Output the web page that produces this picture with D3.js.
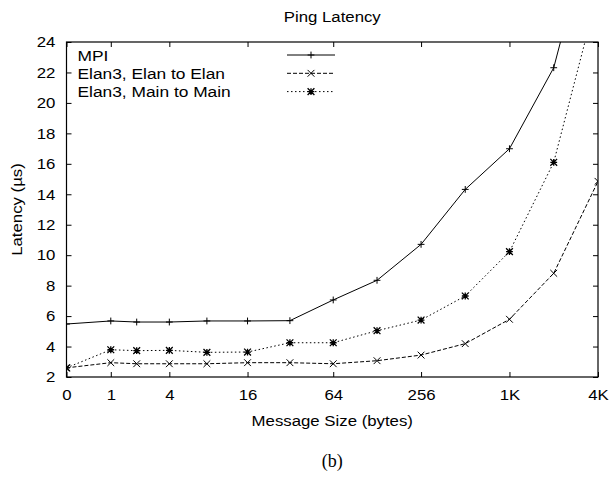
<!DOCTYPE html>
<meta charset="utf-8">
<script src="https://cdn.jsdelivr.net/npm/d3@7"></script>
<style>
  body { margin: 0; background: #fff; }
  text { font-family: "Liberation Sans", Arial, sans-serif; fill: #000; }
</style>
<div id="chart"></div>
<script>
// message sizes (bytes) and latencies (us)
var sizes = [0, 1, 2, 4, 8, 16, 32, 64, 128, 256, 512, 1024, 2048, 4096];
var mpi = [5.48, 5.68, 5.61, 5.61, 5.68, 5.68, 5.7, 7.06, 8.35, 10.71, 14.32, 16.99, 22.31, 33.4];
var elanElan = [2.6, 2.94, 2.87, 2.87, 2.87, 2.94, 2.94, 2.87, 3.07, 3.44, 4.19, 5.79, 8.81, 14.85];
var mainMain = [2.6, 3.79, 3.73, 3.75, 3.62, 3.64, 4.25, 4.25, 5.04, 5.74, 7.32, 10.23, 16.1, 27.3];
var sizeTicks = [0, 1, 4, 16, 64, 256, 1024, 4096];
var sizeLabels = ["0", "1", "4", "16", "64", "256", "1K", "4K"];
var latTicks = [2, 4, 6, 8, 10, 12, 14, 16, 18, 20, 22, 24];

var series = [
  {name: "MPI", values: mpi, dash: null, mark: "plus"},
  {name: "Elan3, Elan to Elan", values: elanElan, dash: "4,2", mark: "cross"},
  {name: "Elan3, Main to Main", values: mainMain, dash: "1.5,2.5", mark: "star"}
];

var W = 611, H = 478;
var pl = 66.5, pr = 598, pt = 42, pb = 377;
var SX = 1.12; // gnuplot text looks a little wide

var svg = d3.select("#chart").append("svg").attr("width", W).attr("height", H);

// x is log2(size+1), so 0 sits one step left of 1
var x = d3.scaleLog().base(2).domain([1, 4097]).range([pl, pr]);
var y = d3.scaleLinear().domain([2, 24]).range([pb, pt]);

function stretched(sel) {
  sel.attr("transform", "scale(" + SX + ",1)");
}

// axes, ticks pointing in, mirrored on top/right
var gx = svg.append("g").attr("transform", "translate(0," + pb + ")")
  .call(d3.axisBottom(x).tickValues(sizeTicks.map(d => d + 1))
    .tickFormat((d, i) => sizeLabels[i]).tickSize(-5).tickPadding(12));
var gy = svg.append("g").attr("transform", "translate(" + pl + ",0)")
  .call(d3.axisLeft(y).tickValues(latTicks).tickSize(-5).tickPadding(10));
svg.append("g").attr("transform", "translate(0," + pt + ")")
  .call(d3.axisTop(x).tickValues(sizeTicks.map(d => d + 1)).tickFormat("").tickSize(-5));
svg.append("g").attr("transform", "translate(" + pr + ",0)")
  .call(d3.axisRight(y).tickValues(latTicks).tickFormat("").tickSize(-5));

svg.selectAll(".domain").remove();
svg.selectAll(".tick line").attr("stroke", "#000");
svg.selectAll(".tick text").style("font-size", "15px");
gx.selectAll(".tick text").call(stretched);
gy.selectAll(".tick text").call(stretched);

svg.append("rect").attr("x", pl).attr("y", pt)
  .attr("width", pr - pl).attr("height", pb - pt)
  .attr("fill", "none").attr("stroke", "#000").attr("stroke-width", 1.2);

svg.append("clipPath").attr("id", "clip").append("rect")
  .attr("x", pl).attr("y", pt).attr("width", pr - pl).attr("height", pb - pt);

function marker(g, type, cx, cy) {
  var s = 3.4, p;
  var plus = "M" + (cx - s) + "," + cy + "H" + (cx + s) + "M" + cx + "," + (cy - s) + "V" + (cy + s);
  var cross = "M" + (cx - s) + "," + (cy - s) + "L" + (cx + s) + "," + (cy + s) + "M" + (cx - s) + "," + (cy + s) + "L" + (cx + s) + "," + (cy - s);
  if (type == "plus") p = plus;
  else if (type == "cross") p = cross;
  else p = plus + cross;
  g.append("path").attr("d", p).attr("stroke", "#000")
    .attr("stroke-width", type == "star" ? 1.3 : 1).attr("fill", "none");
}

var plot = svg.append("g").attr("clip-path", "url(#clip)");
var line = d3.line().x((d, i) => x(sizes[i] + 1)).y(d => y(d));

series.forEach(function (s) {
  plot.append("path").datum(s.values).attr("d", line)
    .attr("fill", "none").attr("stroke", "#000").attr("stroke-width", 1)
    .attr("stroke-dasharray", s.dash);
  s.values.forEach(function (v, i) { marker(plot, s.mark, x(sizes[i] + 1), y(v)); });
});

// legend
var leg = svg.append("g");
series.forEach(function (s, i) {
  var ly = 55 + i * 18.3;
  leg.append("text").attr("transform", "translate(77.5," + (ly + 5.5) + ") scale(" + SX + ",1)")
    .style("font-size", "15.5px").text(s.name);
  leg.append("line").attr("x1", 287).attr("x2", 335).attr("y1", ly).attr("y2", ly)
    .attr("stroke", "#000").attr("stroke-dasharray", s.dash);
  marker(leg, s.mark, 311, ly);
});

// titles
var cx = (pl + pr) / 2;
svg.append("text").attr("transform", "translate(" + cx + ",22) scale(" + SX + ",1)")
  .attr("text-anchor", "middle").style("font-size", "15px").text("Ping Latency");
svg.append("text").attr("transform", "translate(" + cx + ",426) scale(" + SX + ",1)")
  .attr("text-anchor", "middle").style("font-size", "15px").text("Message Size (bytes)");
svg.append("text").attr("transform", "translate(22," + ((pt + pb) / 2) + ") rotate(-90) scale(" + SX + ",1)")
  .attr("text-anchor", "middle").style("font-size", "15px").text("Latency (\u00b5s)");
svg.append("text").attr("x", cx).attr("y", 467)
  .attr("text-anchor", "middle").style("font-family", "'Liberation Serif', 'Times New Roman', serif")
  .style("font-size", "18px").text("(b)");
</script>
